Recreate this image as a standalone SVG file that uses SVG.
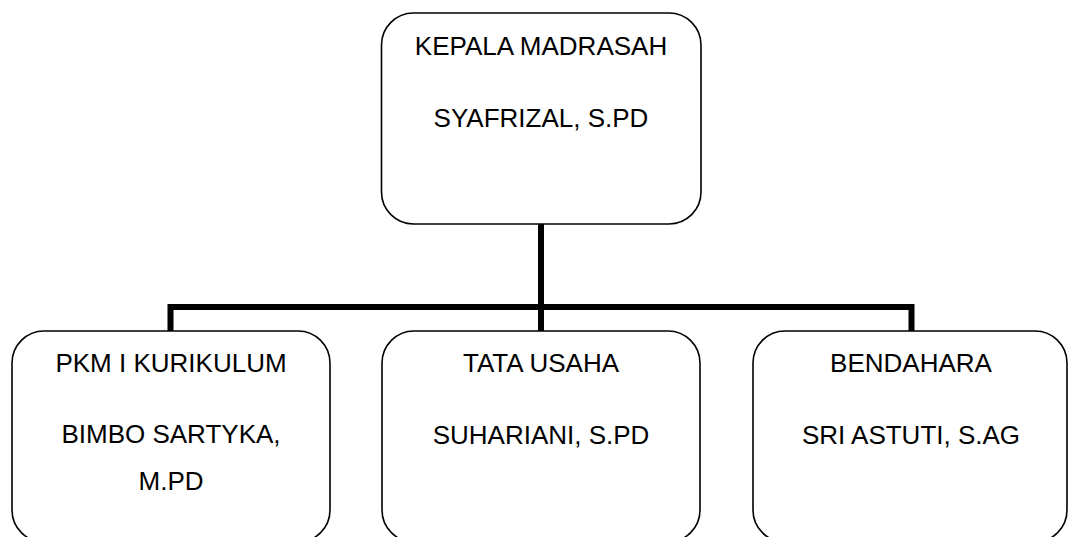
<svg xmlns="http://www.w3.org/2000/svg" width="1069" height="537" viewBox="0 0 1069 537">
<style>
.box{fill:#fff;stroke:#000;stroke-width:1.6}
.t{font-family:"Liberation Sans",Arial,sans-serif;font-size:26px;fill:#000;text-anchor:middle}
.c{fill:none;stroke:#000;stroke-width:6;stroke-linejoin:miter}
</style>
<rect width="1069" height="537" fill="#fff"/>
<g id="connectors">
<path class="c" d="M541,224 V307"/>
<path class="c" d="M170.5,331 V307 H911.5 V331"/>
<path class="c" d="M541,307 V331"/>
</g>
<g id="kepala">
<rect class="box" x="381.5" y="13" width="319.5" height="211" rx="32" ry="32"/>
<text class="t" x="541" y="55">KEPALA MADRASAH</text>
<text class="t" x="541" y="127">SYAFRIZAL, S.PD</text>
</g>
<g id="pkm">
<rect class="box" x="12" y="331" width="318" height="211" rx="32" ry="32"/>
<text class="t" x="171" y="372">PKM I KURIKULUM</text>
<text class="t" x="171" y="443">BIMBO SARTYKA,</text>
<text class="t" x="171" y="490">M.PD</text>
</g>
<g id="tatausaha">
<rect class="box" x="382" y="331" width="318" height="211" rx="32" ry="32"/>
<text class="t" x="541" y="372">TATA USAHA</text>
<text class="t" x="541" y="444">SUHARIANI, S.PD</text>
</g>
<g id="bendahara">
<rect class="box" x="753" y="331" width="314" height="211" rx="32" ry="32"/>
<text class="t" x="911" y="372">BENDAHARA</text>
<text class="t" x="911" y="444">SRI ASTUTI, S.AG</text>
</g>
</svg>
